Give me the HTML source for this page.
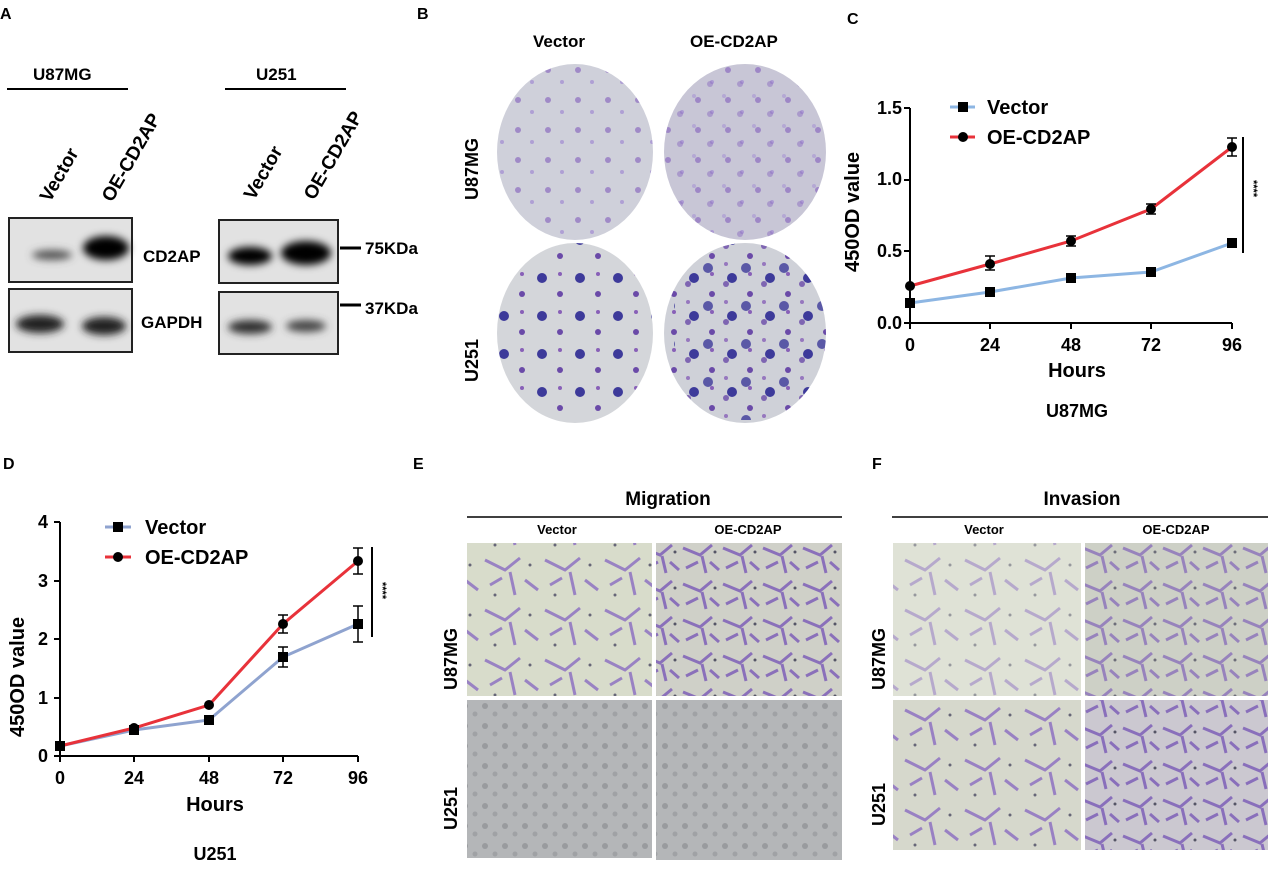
<!DOCTYPE html>
<html><head><style>
body{margin:0;background:#fff;}
svg{display:block;font-family:"Liberation Sans",Arial,sans-serif;font-weight:bold;}
</style></head><body>
<svg width="1270" height="869" viewBox="0 0 1270 869" xmlns="http://www.w3.org/2000/svg">
<defs>
<filter id="bl"><feGaussianBlur stdDeviation="4"/></filter>
<clipPath id="c2"><ellipse cx="745" cy="152" rx="81" ry="88"/></clipPath>
<clipPath id="c4"><ellipse cx="745" cy="333" rx="81" ry="90"/></clipPath>
<pattern id="cellsA" width="60" height="50" patternUnits="userSpaceOnUse">
<path d="M5 10 L25 20 L40 8 M30 22 L35 45 M45 30 L58 40 M10 35 L22 28" stroke="#8a6cc0" stroke-width="3" fill="none" opacity="0.8"/>
<circle cx="50" cy="15" r="1.5" fill="#667"/><circle cx="15" cy="45" r="1.5" fill="#667"/>
</pattern>
<pattern id="cellsB" width="40" height="36" patternUnits="userSpaceOnUse">
<path d="M3 8 L20 15 L32 5 M22 16 L26 33 M30 22 L39 30 M6 28 L18 22" stroke="#7e5fb8" stroke-width="3" fill="none" opacity="0.85"/>
<circle cx="35" cy="12" r="1.5" fill="#556"/>
</pattern>
<pattern id="gray" width="20" height="20" patternUnits="userSpaceOnUse">
<rect width="20" height="20" fill="#b4b6b8"/><circle cx="5" cy="6" r="3" fill="#999b9e"/><circle cx="15" cy="14" r="2.5" fill="#a0a2a5"/>
</pattern>
<pattern id="dotsP" width="30" height="30" patternUnits="userSpaceOnUse">
<circle cx="8" cy="10" r="3" fill="#8c6cc0" opacity="0.7"/><circle cx="22" cy="22" r="2" fill="#9a7fd0" opacity="0.6"/>
</pattern>
<pattern id="dotsU" width="38" height="38" patternUnits="userSpaceOnUse">
<circle cx="10" cy="12" r="5" fill="#3d3a9a"/><circle cx="28" cy="28" r="3" fill="#6a4aa8"/><circle cx="28" cy="8" r="2" fill="#8860b8"/>
</pattern>
</defs>

<!-- Panel A -->
<text x="0" y="19" font-size="16">A</text>
<text x="33" y="80" font-size="17">U87MG</text>
<line x1="7" y1="89" x2="128" y2="89" stroke="#000" stroke-width="2"/>
<text x="256" y="80" font-size="17">U251</text>
<line x1="225" y1="89" x2="346" y2="89" stroke="#000" stroke-width="2"/>
<text font-size="19" transform="translate(50,203) rotate(-60)">Vector</text>
<text font-size="19" transform="translate(112,203) rotate(-60)">OE-CD2AP</text>
<text font-size="19" transform="translate(254,201) rotate(-60)">Vector</text>
<text font-size="19" transform="translate(314,201) rotate(-60)">OE-CD2AP</text>
<rect x="9" y="218" width="123" height="64" fill="#e2e2e2" stroke="#222" stroke-width="2"/>
<rect x="9" y="289" width="123" height="63" fill="#e2e2e2" stroke="#222" stroke-width="2"/>
<rect x="219" y="220" width="119" height="63" fill="#e2e2e2" stroke="#222" stroke-width="2"/>
<rect x="219" y="292" width="119" height="62" fill="#e2e2e2" stroke="#222" stroke-width="2"/>
<g filter="url(#bl)">
<ellipse cx="52" cy="255" rx="20" ry="5" fill="#555"/>
<ellipse cx="106" cy="248" rx="23" ry="12" fill="#000"/>
<ellipse cx="40" cy="324" rx="24" ry="9" fill="#222"/>
<ellipse cx="104" cy="326" rx="22" ry="9" fill="#222"/>
<ellipse cx="250" cy="256" rx="22" ry="9" fill="#000"/>
<ellipse cx="306" cy="253" rx="25" ry="12" fill="#000"/>
<ellipse cx="250" cy="327" rx="22" ry="7" fill="#333"/>
<ellipse cx="306" cy="326" rx="20" ry="6" fill="#444"/>
</g>
<rect x="9" y="218" width="123" height="64" fill="none" stroke="#222" stroke-width="2"/>
<rect x="9" y="289" width="123" height="63" fill="none" stroke="#222" stroke-width="2"/>
<rect x="219" y="220" width="119" height="63" fill="none" stroke="#222" stroke-width="2"/>
<rect x="219" y="292" width="119" height="62" fill="none" stroke="#222" stroke-width="2"/>
<text x="143" y="262" font-size="17">CD2AP</text>
<text x="141" y="328" font-size="17">GAPDH</text>
<line x1="340" y1="248" x2="361" y2="248" stroke="#000" stroke-width="3"/>
<text x="365" y="254" font-size="17">75KDa</text>
<line x1="340" y1="305" x2="361" y2="305" stroke="#000" stroke-width="3"/>
<text x="365" y="314" font-size="17">37KDa</text>

<!-- Panel B -->
<text x="417" y="19" font-size="16">B</text>
<text x="533" y="47" font-size="17">Vector</text>
<text x="690" y="47" font-size="17">OE-CD2AP</text>
<text font-size="18" transform="translate(478,200) rotate(-90)">U87MG</text>
<text font-size="18" transform="translate(478,382) rotate(-90)">U251</text>
<ellipse cx="575" cy="152" rx="78" ry="88" fill="#cfd0da"/>
<ellipse cx="575" cy="152" rx="78" ry="88" fill="url(#dotsP)"/>
<ellipse cx="745" cy="152" rx="81" ry="88" fill="#c8c6d6"/>
<g clip-path="url(#c2)">
<rect x="660" y="60" width="170" height="190" fill="url(#dotsP)"/>
<rect x="660" y="60" width="170" height="190" fill="url(#dotsP)" transform="translate(12,14)" opacity="0.7"/>
</g>
<ellipse cx="575" cy="333" rx="78" ry="90" fill="#d4d6da"/>
<ellipse cx="575" cy="333" rx="78" ry="90" fill="url(#dotsU)"/>
<ellipse cx="745" cy="333" rx="81" ry="90" fill="#cfd1d8"/>
<g clip-path="url(#c4)">
<rect x="660" y="240" width="170" height="190" fill="url(#dotsU)"/>
<rect x="660" y="240" width="170" height="190" fill="url(#dotsU)" transform="translate(14,-10)" opacity="0.8"/>
</g>

<!-- Panel C -->
<text x="847" y="24" font-size="16">C</text>
<g font-size="18">
<text x="902" y="114" text-anchor="end">1.5</text>
<text x="902" y="185" text-anchor="end">1.0</text>
<text x="902" y="257" text-anchor="end">0.5</text>
<text x="902" y="329" text-anchor="end">0.0</text>
<text x="910" y="351" text-anchor="middle">0</text>
<text x="990" y="351" text-anchor="middle">24</text>
<text x="1071" y="351" text-anchor="middle">48</text>
<text x="1151" y="351" text-anchor="middle">72</text>
<text x="1232" y="351" text-anchor="middle">96</text>
</g>
<text x="1077" y="377" font-size="20" text-anchor="middle">Hours</text>
<text x="1077" y="417" font-size="18" text-anchor="middle">U87MG</text>
<text font-size="20" transform="translate(859,272) rotate(-90)">450OD value</text>
<g stroke="#000" stroke-width="2" fill="none">
<path d="M910 108 V323 H1232"/>
<path d="M904 108H910M904 180H910M904 251H910M904 323H910M910 323V329M990 323V329M1071 323V329M1151 323V329M1232 323V329"/>
</g>
<polyline points="910,303 990,292 1071,278 1151,272 1232,243" stroke="#8db6e3" stroke-width="3" fill="none"/>
<polyline points="910,286 990,264 1071,241 1151,209 1232,147" stroke="#e8323a" stroke-width="3" fill="none"/>
<g stroke="#000" stroke-width="1.5">
<path d="M990 256V270M985 256H995M985 270H995M1071 236V246M1066 236H1076M1066 246H1076M1151 204V214M1146 204H1156M1146 214H1156M1232 138V156M1227 138H1237M1227 156H1237"/>
</g>
<g fill="#000">
<rect x="905" y="298" width="10" height="10"/><rect x="985" y="287" width="10" height="10"/><rect x="1066" y="273" width="10" height="10"/><rect x="1146" y="267" width="10" height="10"/><rect x="1227" y="238" width="10" height="10"/>
<circle cx="910" cy="286" r="5"/><circle cx="990" cy="264" r="5"/><circle cx="1071" cy="241" r="5"/><circle cx="1151" cy="209" r="5"/><circle cx="1232" cy="147" r="5"/>
</g>
<line x1="1243" y1="137" x2="1243" y2="253" stroke="#000" stroke-width="2"/>
<text font-size="11" transform="translate(1250,180) rotate(90)">****</text>
<line x1="950" y1="107" x2="975" y2="107" stroke="#8db6e3" stroke-width="3"/><rect x="958" y="102" width="10" height="10"/>
<text x="987" y="114" font-size="20">Vector</text>
<line x1="950" y1="137" x2="975" y2="137" stroke="#e8323a" stroke-width="3"/><circle cx="963" cy="137" r="5"/>
<text x="987" y="144" font-size="20">OE-CD2AP</text>

<!-- Panel D -->
<text x="3" y="469" font-size="16">D</text>
<g font-size="18">
<text x="48" y="528" text-anchor="end">4</text>
<text x="48" y="587" text-anchor="end">3</text>
<text x="48" y="645" text-anchor="end">2</text>
<text x="48" y="704" text-anchor="end">1</text>
<text x="48" y="762" text-anchor="end">0</text>
<text x="60" y="784" text-anchor="middle">0</text>
<text x="134" y="784" text-anchor="middle">24</text>
<text x="209" y="784" text-anchor="middle">48</text>
<text x="283" y="784" text-anchor="middle">72</text>
<text x="358" y="784" text-anchor="middle">96</text>
</g>
<text x="215" y="811" font-size="20" text-anchor="middle">Hours</text>
<text x="215" y="860" font-size="18" text-anchor="middle">U251</text>
<text font-size="20" transform="translate(24,737) rotate(-90)">450OD value</text>
<g stroke="#000" stroke-width="2" fill="none">
<path d="M60 522 V756 H358"/>
<path d="M54 522H60M54 581H60M54 639H60M54 698H60M54 756H60M60 756V762M134 756V762M209 756V762M283 756V762M358 756V762"/>
</g>
<polyline points="60,746 134,730 209,720 283,657 358,624" stroke="#8fa3cf" stroke-width="3" fill="none"/>
<polyline points="60,746 134,728 209,705 283,624 358,561" stroke="#e8323a" stroke-width="3" fill="none"/>
<g stroke="#000" stroke-width="1.5">
<path d="M283 647V667M278 647H288M278 667H288M283 615V633M278 615H288M278 633H288M358 606V642M353 606H363M353 642H363M358 548V574M353 548H363M353 574H363"/>
</g>
<g fill="#000">
<rect x="55" y="741" width="10" height="10"/><rect x="129" y="725" width="10" height="10"/><rect x="204" y="715" width="10" height="10"/><rect x="278" y="652" width="10" height="10"/><rect x="353" y="619" width="10" height="10"/>
<circle cx="60" cy="746" r="5"/><circle cx="134" cy="728" r="5"/><circle cx="209" cy="705" r="5"/><circle cx="283" cy="624" r="5"/><circle cx="358" cy="561" r="5"/>
</g>
<line x1="372" y1="547" x2="372" y2="637" stroke="#000" stroke-width="2"/>
<text font-size="11" transform="translate(379,582) rotate(90)">****</text>
<line x1="105" y1="527" x2="131" y2="527" stroke="#8fa3cf" stroke-width="3"/><rect x="113" y="522" width="10" height="10"/>
<text x="145" y="534" font-size="20">Vector</text>
<line x1="105" y1="557" x2="131" y2="557" stroke="#e8323a" stroke-width="3"/><circle cx="118" cy="557" r="5"/>
<text x="145" y="564" font-size="20">OE-CD2AP</text>

<!-- Panel E -->
<text x="413" y="469" font-size="16">E</text>
<text x="668" y="505" font-size="19" text-anchor="middle">Migration</text>
<line x1="467" y1="517" x2="842" y2="517" stroke="#000" stroke-width="1.5"/>
<text x="557" y="534" font-size="13" text-anchor="middle">Vector</text>
<text x="748" y="534" font-size="13" text-anchor="middle">OE-CD2AP</text>
<text font-size="18" transform="translate(457,690) rotate(-90)">U87MG</text>
<text font-size="18" transform="translate(457,830) rotate(-90)">U251</text>
<rect x="467" y="543" width="185" height="153" fill="#d8dccb"/>
<rect x="467" y="543" width="185" height="153" fill="url(#cellsA)"/>
<rect x="656" y="543" width="186" height="153" fill="#cfd0c8"/>
<rect x="656" y="543" width="186" height="153" fill="url(#cellsB)"/>
<rect x="467" y="700" width="185" height="158" fill="url(#gray)"/>
<rect x="656" y="700" width="186" height="160" fill="url(#gray)"/>

<!-- Panel F -->
<text x="872" y="469" font-size="16">F</text>
<text x="1082" y="505" font-size="19" text-anchor="middle">Invasion</text>
<line x1="892" y1="517" x2="1268" y2="517" stroke="#000" stroke-width="1.5"/>
<text x="984" y="534" font-size="13" text-anchor="middle">Vector</text>
<text x="1176" y="534" font-size="13" text-anchor="middle">OE-CD2AP</text>
<text font-size="18" transform="translate(885,690) rotate(-90)">U87MG</text>
<text font-size="18" transform="translate(885,826) rotate(-90)">U251</text>
<rect x="893" y="543" width="188" height="153" fill="#dfe2d6"/>
<rect x="893" y="543" width="188" height="153" fill="url(#cellsA)" opacity="0.6"/>
<rect x="1085" y="543" width="183" height="153" fill="#cdd0c6"/>
<rect x="1085" y="543" width="183" height="153" fill="url(#cellsB)" opacity="0.8"/>
<rect x="893" y="700" width="188" height="150" fill="#d6d8cc"/>
<rect x="893" y="700" width="188" height="150" fill="url(#cellsA)"/>
<rect x="1085" y="700" width="183" height="150" fill="#cbc8d0"/>
<rect x="1085" y="700" width="183" height="150" fill="url(#cellsB)"/>
</svg>
</body></html>
